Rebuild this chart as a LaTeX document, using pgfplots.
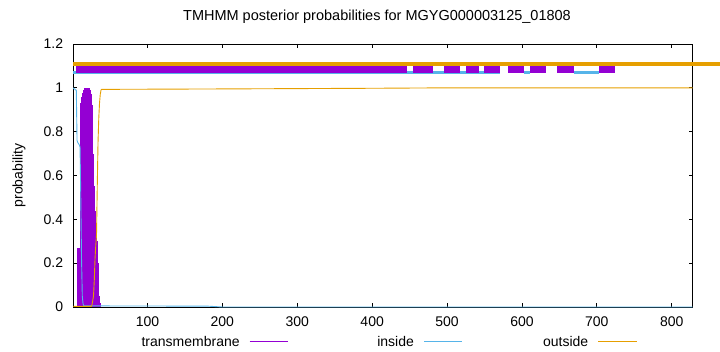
\documentclass[border=0pt]{standalone}
\usepackage{fontspec}
\setmainfont{Liberation Sans}
\usepackage{pgfplots}
\pgfplotsset{compat=1.18}
\definecolor{tmc}{HTML}{9400D3}
\definecolor{inc}{HTML}{56B4E9}
\definecolor{outc}{HTML}{E69F00}
\begin{document}
\begin{tikzpicture}
\path[use as bounding box] (0,0) rectangle (720bp,352bp);
\begin{axis}[
  at={(73.3bp,45bp)}, anchor=south west,
  scale only axis, width=619.4bp, height=263bp,
  xmin=1, xmax=828, ymin=0, ymax=1.2,
  clip=false,
  font=\fontsize{14bp}{16bp}\selectfont,
  axis line style={black, line width=0.8bp},
  tick style={black, line width=0.8bp},
  major tick length=4bp,
  tick align=inside,
  xtick={100,200,...,800},
  xticklabels={100,200,300,400,500,600,700,800},
  ytick={0,0.2,0.4,0.6,0.8,1,1.2},
  yticklabels={0,0.2,0.4,0.6,0.8,1,1.2},
  xticklabel style={inner sep=0pt, anchor=north, yshift=-10bp},
  yticklabel style={inner sep=0pt, anchor=east, xshift=-10bp},
  title={TMHMM posterior probabilities for MGYG000003125\_01808},
  title style={at={(0.4903,1.0894)}, anchor=base, inner sep=0pt, yshift=-6bp,
    font=\fontsize{14.5bp}{16bp}\selectfont},
  ylabel={probability},
  ylabel style={at={(axis description cs:-0.0817,0.5)}, anchor=base, inner sep=0pt},
  legend columns=3, legend plot pos=right,
  legend image code/.code={\draw[#1] (0bp,0bp) -- (38.4bp,0bp);},
  legend style={at={(0.0906,-0.1316)}, anchor=west, draw=none, fill=none,
    inner sep=0pt, nodes={inner sep=0pt, text depth=0pt},
    /tikz/every odd column/.style={column sep=9.6bp},
    /tikz/every even column/.style={column sep=15.3bp}},
]
% transmembrane posterior (impulses)
\addplot[tmc, ycomb, line width=2.5bp, line cap=butt, forget plot] coordinates {
(8,0.27)(9,0.27)(10,0.27)(11,0.3)(12,0.93)(13,0.96)(14,0.975)(15,0.985)(16,0.99)
(17,1)(18,1)(19,1)(20,1)(21,1)(22,0.995)(23,0.99)(24,0.97)(25,0.92)(26,0.82)
(27,0.7)(28,0.55)(29,0.44)(30,0.38)(31,0.33)(32,0.3)(33,0.2)(34,0.12)(35,0.05)(36,0.02)
};
% inside
\addplot[inc, line width=0.9bp, forget plot] coordinates {
(1,1)(2,0.995)(3,0.995)(4,0.99)(5,0.99)(6,0.76)(7,0.75)(8,0.745)(9,0.74)(10,0.73)
(11,0.5)(12,0.22)(13,0.05)(14,0.015)(15,0.005)(180,0.004)(200,0)(828,0)
};
% outside
\addplot[outc, line width=0.9bp, forget plot] coordinates {
(1,0.003)(25,0.003)(26,0.01)(27,0.03)(28,0.05)(29,0.12)(30,0.22)(31,0.28)(32,0.33)
(33,0.55)(34,0.75)(35,0.86)(36,0.93)(37,0.97)(38,0.99)(39,0.993)(200,0.995)(400,0.998)(500,1)(828,1)
};
% topology: inside
\addplot[inc, line width=3bp, forget plot, unbounded coords=jump] coordinates {
(1,1.068)(570.8,1.068)(571,nan)(602.8,1.068)(610.8,1.068)(611,nan)(669.6,1.068)(703,1.068)
};
% topology: transmembrane
\addplot[tmc, line width=7bp, line cap=butt, forget plot, unbounded coords=jump] coordinates {
(4.6,1.083)(446.6,1.083)(450,nan)(454.6,1.083)(481.3,1.083)(490,nan)(496,1.083)(517.4,1.083)
(520,nan)(525.4,1.083)(542.7,1.083)(545,nan)(549.4,1.083)(570.8,1.083)(575,nan)
(581.5,1.083)(602.8,1.083)(605,nan)(610.8,1.083)(632.2,1.083)(640,nan)(646.9,1.083)(669.6,1.083)
(680,nan)(703,1.083)(724.4,1.083)
};
\addplot[tmc, line width=4bp, line cap=butt, forget plot] coordinates {(12,1.097)(31,1.097)};
% topology: outside
\addplot[outc, line width=4bp, line cap=butt, forget plot] coordinates {(1,1.11)(870,1.11)};
% legend
\addlegendimage{tmc, line width=1bp}
\addlegendentry{\makebox[110bp][r]{transmembrane}}
\addlegendimage{inc, line width=1bp}
\addlegendentry{\makebox[110bp][r]{inside}}
\addlegendimage{outc, line width=1bp}
\addlegendentry{\makebox[110bp][r]{outside}}
\end{axis}
\end{tikzpicture}
\end{document}
